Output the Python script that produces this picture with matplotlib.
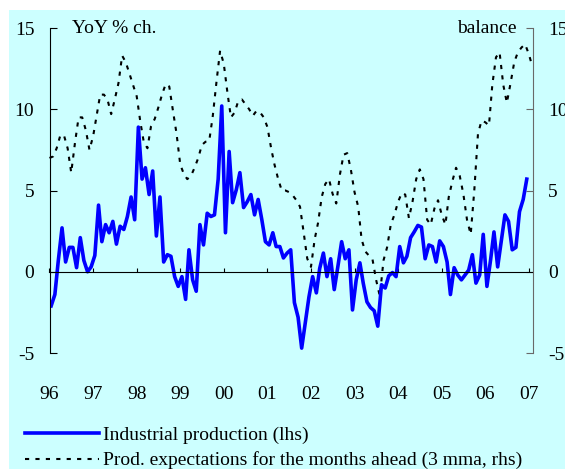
import numpy as np
import pandas as pd
import matplotlib
matplotlib.use('Agg')
import matplotlib.pyplot as plt
import matplotlib.dates as mdates
from matplotlib.patches import Rectangle

plt.rcParams['font.family'] = ['Liberation Serif', 'DejaVu Serif']
plt.rcParams['axes.unicode_minus'] = False

# industrial production, YoY % ch. (lhs), monthly from Jan 96
ip = [-2.1, -1.4, 0.7, 2.7, 0.6, 1.5, 1.5, 0.25, 2.1, 0.7, 0.0, 0.3,
      1.0, 4.1, 1.85, 2.9, 2.4, 3.1, 1.7, 2.8, 2.6, 3.4, 4.6, 3.2,
      8.9, 5.7, 6.4, 4.75, 6.2, 2.2, 4.6, 0.6, 1.05, 0.95, -0.3, -0.9,
      -0.3, -1.7, 1.35, -0.5, -1.2, 2.9, 1.65, 3.6, 3.4, 3.5, 5.7, 10.2,
      2.4, 7.4, 4.25, 5.05, 6.1, 3.95, 4.3, 4.75, 3.5, 4.45, 3.2, 1.85,
      1.65, 2.4, 1.55, 1.55, 0.85, 1.15, 1.35, -1.9, -2.8, -4.7, -3.1, -1.55,
      -0.3, -1.3, 0.2, 1.15, -0.3, 0.8, -1.1, 0.35, 1.85, 0.8, 1.35, -2.35,
      -0.5, 0.55, -0.7, -1.85, -2.2, -2.4, -3.35, -0.8, -1.0, -0.25, -0.05, -0.3,
      1.55, 0.55, 0.95, 2.1, 2.45, 2.85, 2.75, 0.8, 1.65, 1.55, 0.6, 1.9,
      1.55, 0.6, -1.4, 0.25, -0.2, -0.5, -0.2, 0.1, 1.05, -0.7, -0.2, 2.3,
      -0.9, 0.75, 2.45, 0.3, 1.85, 3.5, 3.1, 1.35, 1.5, 3.7, 4.45, 5.7]

# production expectations, balance, 3 mma (rhs), monthly from Jan 96
expect = [7.0, 7.1, 7.6, 8.4, 8.4, 7.6, 6.1, 7.9, 9.5, 9.5, 8.7, 7.5,
          8.35, 9.7, 10.9, 10.9, 10.6, 9.7, 10.6, 11.6, 13.3, 12.9, 12.2, 11.5,
          10.8, 9.2, 8.0, 7.6, 8.95, 9.4, 10.1, 10.9, 11.55, 11.4, 9.9, 8.5,
          6.6, 6.0, 5.7, 5.9, 6.4, 7.0, 7.8, 8.0, 8.05, 9.6, 11.7, 13.6,
          12.8, 11.0, 9.5, 9.8, 10.5, 10.6, 10.3, 10.0, 9.6, 9.9, 9.8, 9.5,
          8.9, 7.6, 6.6, 5.7, 5.0, 5.0, 4.9, 4.7, 4.4, 4.0, 2.4, 0.8,
          0.3, 2.0, 3.0, 4.6, 5.4, 5.7, 4.8, 4.2, 6.0, 7.2, 7.3, 6.3,
          4.9, 4.0, 2.0, 1.25, 1.0, 0.75, -0.5, -1.5, 0.7, 1.5, 2.9, 3.5,
          4.3, 4.85, 4.75, 3.3, 4.3, 5.7, 6.3, 5.7, 3.2, 2.9, 3.9, 4.4,
          3.5, 2.9, 4.6, 5.6, 6.4, 5.9, 4.8, 3.2, 2.3, 5.0, 8.5, 9.3,
          9.2, 9.0, 11.5, 13.2, 13.5, 11.5, 10.4, 11.6, 12.9, 13.5, 13.8, 14.0,
          13.4, 12.6]

ip_dates = pd.date_range('1996-01-01', periods=len(ip), freq='MS') + pd.Timedelta(days=14)
exp_dates = pd.date_range('1996-01-01', periods=len(expect), freq='MS')

fig = plt.figure(figsize=(5.65, 4.69), dpi=100)
# light cyan panel, white strip on top and left
fig.patches.append(Rectangle((9 / 565, 0), 1, 459 / 469, transform=fig.transFigure,
                             facecolor='#CCFFFF', edgecolor='none', zorder=-5))

ax = fig.add_axes([49.5 / 565, 1 - 353 / 469, 483 / 565, 325 / 469])
ax2 = ax.twinx()
ax.set_zorder(ax2.get_zorder() + 1)
ax.patch.set_visible(False)
ax2.patch.set_visible(False)

ax.plot(ip_dates, ip, color='#0000FF', lw=2.6, label='Industrial production (lhs)')
ax2.plot(exp_dates, expect, color='black', lw=1.5, linestyle=(0, (2, 3)),
         label='Prod. expectations for the months ahead (3 mma, rhs)')

for a in (ax, ax2):
    a.set_ylim(-5, 15)
    a.set_yticks([-5, 0, 5, 10, 15])
    a.spines['top'].set_visible(False)
ax.set_xlim(pd.Timestamp('1996-01-01'), pd.Timestamp('2007-02-01'))

ax.spines['right'].set_visible(False)
ax2.spines['left'].set_visible(False)
ax2.spines['bottom'].set_visible(False)
ax2.spines['right'].set_color('dimgray')
ax.spines['bottom'].set_position(('data', 0))

ax.xaxis.set_major_locator(mdates.YearLocator())
ax.xaxis.set_major_formatter(mdates.DateFormatter('%y'))
ax.tick_params(axis='x', direction='in', length=3, pad=82, labelsize=14)
ax.tick_params(axis='y', direction='in', length=5, pad=11, labelsize=14)
ax2.tick_params(axis='y', direction='in', length=5, pad=11, labelsize=14, color='dimgray')
ax2.tick_params(axis='x', length=0, labelbottom=False)

ax.text(0.047, 1.0, 'YoY % ch.', transform=ax.transAxes, fontsize=14, va='center', ha='left')
ax.text(0.968, 1.0, 'balance', transform=ax.transAxes, fontsize=14, va='center', ha='right')

h1, l1 = ax.get_legend_handles_labels()
h2, l2 = ax2.get_legend_handles_labels()
fig.legend(h1 + h2, l1 + l2, loc='upper left', bbox_to_anchor=(25 / 565, 1 - 426 / 469),
           frameon=False, fontsize=14, handlelength=3.8, handletextpad=0.2,
           labelspacing=0.4, borderpad=0, borderaxespad=0)

fig.savefig('out.png', dpi=100)
